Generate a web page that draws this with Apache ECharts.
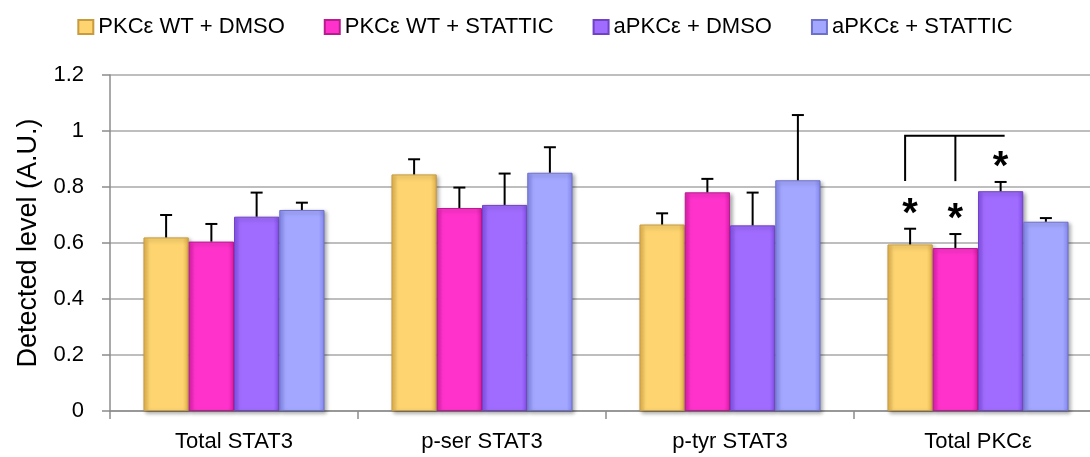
<!DOCTYPE html>
<html><head><meta charset="utf-8">
<script src="https://cdn.jsdelivr.net/npm/echarts@6/dist/echarts.min.js"></script>
<style>html,body{margin:0;padding:0;background:#fff}#c{width:1090px;height:457px}</style>
</head><body><div id="c"></div>
<script>
const categories = ['Total STAT3', 'p-ser STAT3', 'p-tyr STAT3', 'Total PKCε'];
const seriesNames = ['PKCε WT + DMSO', 'PKCε WT + STATTIC', 'aPKCε + DMSO', 'aPKCε + STATTIC'];
const wtDmso      = [0.620, 0.845, 0.666, 0.595];
const wtStattic   = [0.605, 0.725, 0.781, 0.582];
const aDmso       = [0.694, 0.736, 0.663, 0.785];
const aStattic    = [0.718, 0.851, 0.824, 0.676];
const wtDmsoErr    = [0.080, 0.054, 0.040, 0.056];
const wtStatticErr = [0.063, 0.073, 0.048, 0.050];
const aDmsoErr     = [0.086, 0.112, 0.117, 0.033];
const aStatticErr  = [0.026, 0.091, 0.233, 0.013];
const wtDmsoSig    = [0, 0, 0, 1];
const wtStatticSig = [0, 0, 0, 1];
const aDmsoSig     = [0, 0, 0, 1];
const aStatticSig  = [0, 0, 0, 0];
const yTicks = [0, 0.2, 0.4, 0.6, 0.8, 1, 1.2];
// bracket over Total PKCε: from series 0 to series 2, tick at series 1
const bracketCategory = 3;
const bracketTop = 0.983;
const bracketBottom = 0.821;

const means = [wtDmso, wtStattic, aDmso, aStattic];
const errs = [wtDmsoErr, wtStatticErr, aDmsoErr, aStatticErr];
const sigs = [wtDmsoSig, wtStatticSig, aDmsoSig, aStatticSig];

const FONT = 'Liberation Sans';
const GAP = 0.27;
const palette = [
  {main: '#FDD46F', edge: '#E3B24E', border: '#C79B3E'},
  {main: '#FF33CC', edge: '#DE1EAE', border: '#B81C8F'},
  {main: '#A06CFF', edge: '#8650EC', border: '#6F43C4'},
  {main: '#A3A7FF', edge: '#8589F0', border: '#6C70C8'}
];
function grad(p) {
  return {type: 'linear', x: 0, y: 0, x2: 1, y2: 0, colorStops: [
    {offset: 0, color: p.edge}, {offset: 0.13, color: p.main},
    {offset: 0.87, color: p.main}, {offset: 1, color: p.edge}]};
}

const barSeries = seriesNames.map((name, s) => ({
  name, type: 'bar', data: means[s], barGap: '0%', barCategoryGap: (GAP * 100) + '%',
  itemStyle: {color: grad(palette[s]), borderColor: palette[s].border, borderWidth: 1,
    shadowColor: 'rgba(0,0,0,0.35)', shadowBlur: 4, shadowOffsetX: 2, shadowOffsetY: 2},
  emphasis: {disabled: true}, z: 2
}));

const errData = [];
means.forEach((arr, s) => arr.forEach((v, c) => errData.push([c, s, v, errs[s][c], sigs[s][c]])));

function barX(api, cat, s, v) {
  const band = api.size([1, 0])[0];
  const bw = band * (1 - GAP) / 4;
  const base = api.coord([cat, v]);
  return base[0] - 2 * bw + (s + 0.5) * bw;
}

const errSeries = {
  type: 'custom', name: 'err', data: errData, z: 5, silent: true,
  encode: {x: 0, y: 2},
  renderItem: function (params, api) {
    const cat = api.value(0), s = api.value(1), v = api.value(2), e = api.value(3), sig = api.value(4);
    const x = barX(api, cat, s, v);
    const y0 = api.coord([cat, v])[1];
    const y1 = api.coord([cat, v + e])[1];
    const st = {stroke: '#000', lineWidth: 2};
    const ch = [
      {type: 'line', shape: {x1: x, y1: y0, x2: x, y2: y1}, style: st},
      {type: 'line', shape: {x1: x - 6, y1: y1, x2: x + 6, y2: y1}, style: st}
    ];
    if (sig) ch.push({type: 'text', x: x, y: y1 + 6, style: {text: '*', fill: '#000',
      font: 'bold 40px ' + FONT, align: 'center', verticalAlign: 'bottom'}});
    return {type: 'group', children: ch};
  }
};

const bracketSeries = {
  type: 'custom', name: 'bracket', data: [[bracketCategory, bracketTop, bracketBottom]], z: 5, silent: true,
  encode: {x: 0, y: 1},
  renderItem: function (params, api) {
    const cat = api.value(0), top = api.value(1), bot = api.value(2);
    const xa = barX(api, cat, 0, top), xb = barX(api, cat, 1, top), xc = barX(api, cat, 2, top);
    const yt = api.coord([cat, top])[1], yb = api.coord([cat, bot])[1];
    const st = {stroke: '#000', lineWidth: 2, fill: null};
    return {type: 'group', children: [
      {type: 'polyline', shape: {points: [[xa - 5, yb], [xa - 5, yt], [xc + 4, yt]]}, style: st},
      {type: 'line', shape: {x1: xb, y1: yt, x2: xb, y2: yb}, style: st}
    ]};
  }
};

const chart = echarts.init(document.getElementById('c'), null, {renderer: 'canvas'});
chart.setOption({
  animation: false,
  textStyle: {fontFamily: FONT},
  legend: {data: seriesNames, top: 11, left: 'center', itemWidth: 15, itemHeight: 14, itemGap: 39,
    icon: 'rect', textStyle: {fontSize: 22, color: '#000', fontFamily: FONT}, selectedMode: false},
  grid: {left: 110, right: -12, top: 75, bottom: 46, containLabel: false, outerBoundsMode: 'none'},
  xAxis: {type: 'category', data: categories,
    axisLine: {lineStyle: {color: '#8c8c8c', width: 1.5}},
    axisTick: {show: true, length: 8, lineStyle: {color: '#8c8c8c', width: 1.5}},
    axisLabel: {fontSize: 22, color: '#000', margin: 20, fontFamily: FONT}},
  yAxis: {type: 'value', min: yTicks[0], max: yTicks[yTicks.length - 1], interval: 0.2,
    name: 'Detected level (A.U.)', nameLocation: 'middle', nameGap: 68,
    nameTextStyle: {fontSize: 27, color: '#000', fontFamily: FONT},
    axisLine: {show: true, lineStyle: {color: '#8c8c8c', width: 1.5}},
    axisTick: {show: true, length: 8, lineStyle: {color: '#8c8c8c', width: 1.5}},
    splitLine: {lineStyle: {color: '#a8a8a8', width: 1.5}},
    axisLabel: {fontSize: 22, color: '#000', margin: 26, fontFamily: FONT,
      formatter: v => String(+v.toFixed(1))}},
  series: [...barSeries, errSeries, bracketSeries]
});
</script></body></html>
